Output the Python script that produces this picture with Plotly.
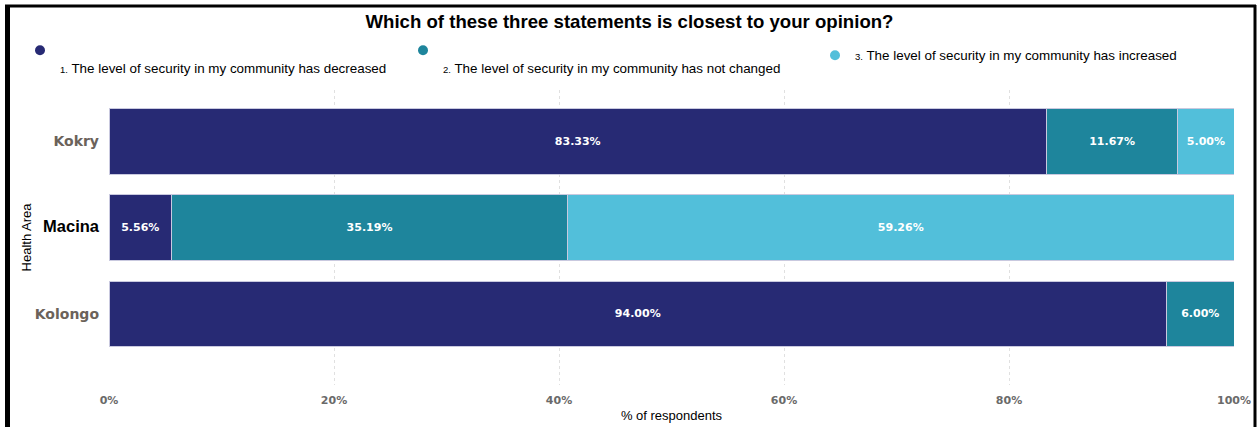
import plotly.graph_objects as go

# Survey results: share of respondents per health area (percent)
areas = ["Kolongo", "Macina", "Kokry"]
decreased = [94.00, 5.56, 83.33]
not_changed = [6.00, 35.19, 11.67]
increased = [None, 59.26, 5.00]

series_names = [
    "<span style='font-size:9.5px'>1.</span> The level of security in my community has decreased",
    "<span style='font-size:9.5px'>2.</span> The level of security in my community has not changed",
    "<span style='font-size:9.5px'>3.</span> The level of security in my community has increased",
]
series_values = [decreased, not_changed, increased]
colors = ["#272a74", "#1e859c", "#52bfda"]

tick_vals = [0, 20, 40, 60, 80, 100]
tick_text = ["0%", "20%", "40%", "60%", "80%", "100%"]

area_labels = [
    "Kolongo",
    "<span style='color:#000000;font-family:Liberation Sans, Arial;font-size:16.5px'>Macina</span>",
    "Kokry",
]

W, H = 1259, 427
ML, MR, MT, MB = 109, 25, 90, 42
PW, PH = W - ML - MR, H - MT - MB


def px_x(px):
    return (px - ML) / PW


def px_y(py):
    return (H - MB - py) / PH


fig = go.Figure()

for name, vals, col in zip(series_names, series_values, colors):
    fig.add_trace(go.Bar(
        y=areas, x=vals, orientation="h", name=name,
        marker=dict(color=col, line=dict(color="#c9c9df", width=1)),
        texttemplate="%{x:.2f}%", textposition="inside",
        insidetextanchor="middle", textangle=0,
        textfont=dict(family="DejaVu Sans", size=11, color="white", weight="bold"),
        showlegend=False, hoverinfo="skip",
    ))

# legend entries drawn with round markers, each in its own legend box;
# the first two put their label on a second line under the marker
legend_labels = ["<br>" + series_names[0], "<br>" + series_names[1], series_names[2]]
for i, (name, col) in enumerate(zip(legend_labels, colors)):
    fig.add_trace(go.Scatter(
        x=[None], y=[None], mode="markers", name=name,
        marker=dict(color=col, size=10, symbol="circle"),
        legend="legend" if i == 0 else f"legend{i + 1}",
    ))

legend_style = dict(
    orientation="h", xref="container", yref="container",
    xanchor="left", yanchor="top", bgcolor="rgba(0,0,0,0)",
    font=dict(family="Liberation Sans, Arial", size=13.4, color="#000000"),
    itemwidth=30, valign="top",
)

fig.update_layout(
    width=W, height=H,
    margin=dict(l=ML, r=MR, t=MT, b=MB),
    paper_bgcolor="white", plot_bgcolor="white",
    barmode="stack", bargap=0.237,
    title=dict(
        text="<b>Which of these three statements is closest to your opinion?</b>",
        x=0.5, xref="container", y=1 - 21 / H, yref="container",
        xanchor="center", yanchor="middle",
        font=dict(family="Liberation Sans, Arial", size=18.6, color="#000000"),
    ),
    legend=dict(legend_style, x=20 / W, y=1 - 35 / H),
    legend2=dict(legend_style, x=403 / W, y=1 - 35 / H),
    legend3=dict(legend_style, x=815 / W, y=1 - 40 / H),
    xaxis=dict(
        range=[0, 100], tickvals=tick_vals, ticktext=tick_text,
        showgrid=True, gridcolor="#e0e0e0", griddash="dot", gridwidth=1,
        zeroline=False, showline=False, ticks="", ticklabelstandoff=7,
        tickfont=dict(family="DejaVu Sans", size=11, color="#6a6a6a", weight="bold"),
        title=dict(text="% of respondents",
                   font=dict(family="Liberation Sans, Arial", size=13, color="#000000"),
                   standoff=4),
        automargin=False, fixedrange=True,
    ),
    yaxis=dict(
        range=[-0.821, 2.59], tickvals=areas, ticktext=area_labels,
        showgrid=False, zeroline=False, showline=False, ticks="",
        ticklabelstandoff=9,
        tickfont=dict(family="DejaVu Sans", size=14, color="#6b625a", weight="bold"),
        title=dict(text="Health Area",
                   font=dict(family="Liberation Sans, Arial", size=13, color="#000000"),
                   standoff=0),
        automargin=False, fixedrange=True,
    ),
    shapes=[
        # dark frame around the visual
        dict(type="line", xref="paper", yref="paper",
             x0=px_x(5), x1=px_x(1256), y0=px_y(6), y1=px_y(6),
             line=dict(color="#000000", width=3)),
        dict(type="line", xref="paper", yref="paper",
             x0=px_x(7.5), x1=px_x(7.5), y0=px_y(5), y1=px_y(427),
             line=dict(color="#000000", width=5)),
        dict(type="line", xref="paper", yref="paper",
             x0=px_x(1255), x1=px_x(1255), y0=px_y(5), y1=px_y(427),
             line=dict(color="#000000", width=3)),
    ],
)

fig.write_html("out.html")
